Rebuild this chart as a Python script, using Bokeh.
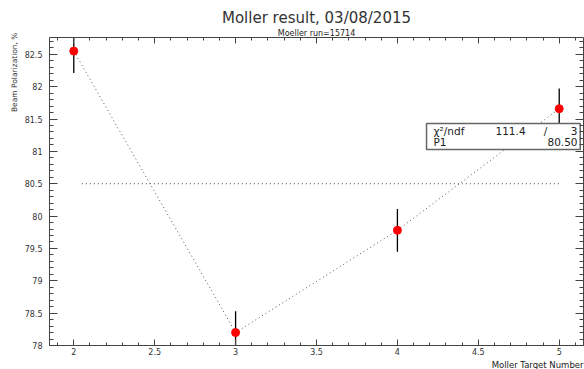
import numpy as np
from bokeh.plotting import figure
from bokeh.models import Label, LinearAxis, FixedTicker, Range1d, Title
from bokeh.embed import file_html
from bokeh.resources import INLINE

# ---- data ----
target = [2, 3, 4, 5]
polarization = [82.55, 78.20, 79.78, 81.66]
pol_err = [0.34, 0.33, 0.33, 0.31]
fit_x = [2.05, 5.0]
chi2, ndf, p1 = 111.4, 3, 80.50

x_ticks = [2, 2.5, 3, 3.5, 4, 4.5, 5]
x_tick_labels = ["2", "2.5", "3", "3.5", "4", "4.5", "5"]
y_ticks = [78, 78.5, 79, 79.5, 80, 80.5, 81, 81.5, 82, 82.5]
y_tick_labels = ["78", "78.5", "79", "79.5", "80", "80.5", "81", "81.5", "82", "82.5"]

title = "Moller result, 03/08/2015"
subtitle = "Moeller run=15714"
x_label = "Moller Target Number"
y_label = "Beam Polarization, %"

X0, X1 = 1.85, 5.15
Y0, Y1 = 78.0, 82.76
FONT = "DejaVu Sans"

p = figure(width=584, height=369, output_backend="svg", toolbar_location=None,
           x_range=Range1d(X0, X1), y_range=Range1d(Y0, Y1),
           min_border_left=49, min_border_right=1, min_border_top=37, min_border_bottom=20)
p.title_location = None
p.outline_line_color = None
p.xgrid.visible = False
p.ygrid.visible = False
p.background_fill_color = "white"
p.border_fill_color = "white"

x_minor = list(np.round(np.arange(1.9, 5.15, 0.1), 2))
y_minor = list(np.round(np.arange(78.0, 82.76, 0.1), 2))

def style_axis(ax, ticks, labels, minor, major_len, minor_len, show_labels=True):
    ax.ticker = FixedTicker(ticks=ticks, minor_ticks=minor)
    ax.major_tick_in = major_len
    ax.major_tick_out = 0
    ax.minor_tick_in = minor_len
    ax.minor_tick_out = 0
    ax.axis_line_color = "#444444"
    ax.major_tick_line_color = "#444444"
    ax.minor_tick_line_color = "#444444"
    ax.axis_line_width = 1
    if show_labels:
        ax.major_label_overrides = {t: l for t, l in zip(ticks, labels)}
        ax.major_label_text_font = FONT
        ax.major_label_text_font_size = "8px"
        ax.major_label_text_color = "#333333"
    else:
        ax.major_label_text_font_size = "0px"
        ax.major_label_standoff = 0
        ax.major_label_text_alpha = 0

style_axis(p.xaxis[0], x_ticks, x_tick_labels, x_minor, 6, 3)
p.xaxis[0].major_label_standoff = 2
p.xaxis[0].major_label_text_line_height = 0.7
style_axis(p.yaxis[0], y_ticks, y_tick_labels, y_minor, 8, 4)
p.yaxis[0].major_label_standoff = 7

top_ax = LinearAxis()
style_axis(top_ax, x_ticks, x_tick_labels, x_minor, 6, 3, show_labels=False)
right_ax = LinearAxis()
style_axis(right_ax, y_ticks, y_tick_labels, y_minor, 8, 4, show_labels=False)
p.add_layout(right_ax, "right")

main_title = Title(text=title, align="center", text_font=FONT, text_font_size="15px",
                   text_font_style="normal", text_color="#333333", standoff=0, offset=-4)
sub_title = Title(text=subtitle, align="center", text_font=FONT, text_font_size="8px",
                  text_font_style="normal", text_color="#222222", standoff=0, offset=-4)
p.above = [top_ax, sub_title, main_title]

ylab = Title(text=y_label, align="right", text_font=FONT, text_font_size="7.5px",
             text_font_style="normal", text_color="#333333", standoff=6, offset=-5)
p.add_layout(ylab, "left")
xlab = Title(text=x_label, align="right", text_font=FONT, text_font_size="8.5px",
             text_font_style="normal", text_color="#222222", standoff=0,
             text_line_height=0.55)
p.add_layout(xlab, "below")

# fit line (pol0) and connecting dotted line
p.line(fit_x, [p1] * len(fit_x), line_color="#555555", line_dash="1 3", line_width=1)
p.line(target, polarization, line_color="#555555", line_dash="1 3", line_width=1)

# error bars
lo = [v - e for v, e in zip(polarization, pol_err)]
hi = [v + e for v, e in zip(polarization, pol_err)]
p.segment(x0=target, y0=lo, x1=target, y1=hi, line_color="black", line_width=1.3)
p.scatter(target, polarization, size=8, color="#ff0000", line_color="#ff0000")

# stats box
p.quad(left=[4.18], right=[5.13], top=[81.43], bottom=[81.03],
       fill_color="white", line_color="#666666", line_width=1.5)
stat_style = dict(text_font=FONT, text_font_size="10.5px", text_color="#222222",
                  text_baseline="middle")
p.add_layout(Label(x=4.223, y=81.31, text="\u03c7\u00b2/ndf", text_align="left", **stat_style))
p.add_layout(Label(x=4.792, y=81.31, text=f"{chi2:.1f}", text_align="right", **stat_style))
p.add_layout(Label(x=4.916, y=81.31, text="/", text_align="center", **stat_style))
p.add_layout(Label(x=5.113, y=81.31, text=f"{ndf}", text_align="right", **stat_style))
p.add_layout(Label(x=4.223, y=81.14, text="P1", text_align="left", **stat_style))
p.add_layout(Label(x=5.113, y=81.14, text=f"{p1:.2f}", text_align="right", **stat_style))

open("out.html", "w").write(file_html(p, INLINE))
